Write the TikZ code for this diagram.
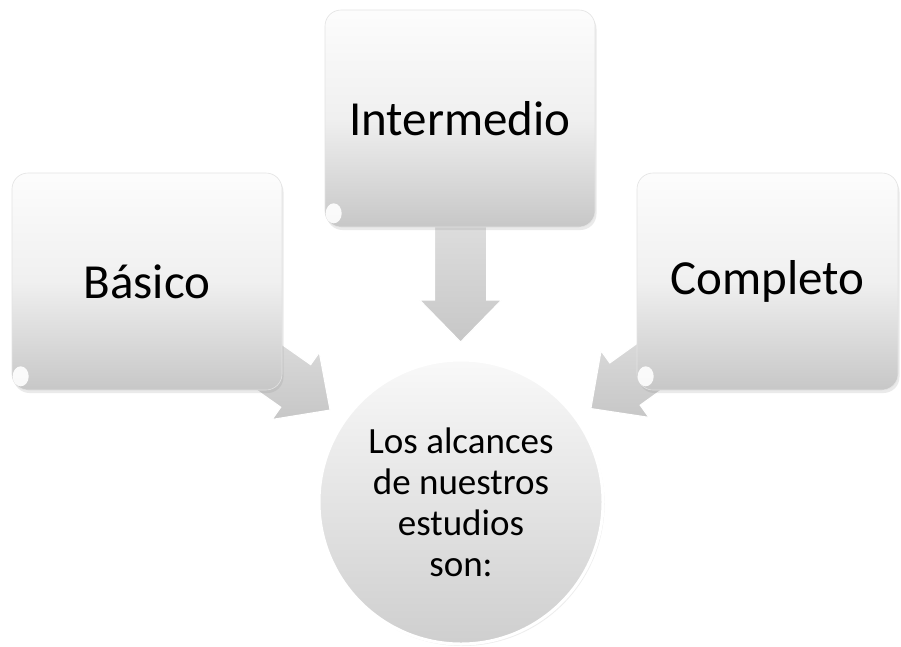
\documentclass[tikz,border=0pt]{standalone}
\usepackage{fontspec}
\setmainfont{Carlito}
\usetikzlibrary{shadows,calc,backgrounds}
\begin{document}
\begin{tikzpicture}[x=1pt,y=1pt,
  levelbox/.style={rectangle, rounded corners=16pt, minimum width=270pt, minimum height=217pt,
    top color=gray!2, bottom color=gray!44, middle color=gray!12, draw=gray!22, line width=0.6pt,
    drop shadow={opacity=0.16, shadow xshift=1.5pt, shadow yshift=-3pt},
    font=\fontsize{49}{59}\selectfont, inner sep=0pt},
  hubcircle/.style={circle, minimum size=284pt, top color=gray!5, bottom color=gray!38,
    draw=white, line width=3pt,
    drop shadow={opacity=0.14, shadow xshift=1.5pt, shadow yshift=-2pt},
    align=center, font=\fontsize{37}{41}\selectfont, inner sep=0pt},
  blockarr/.style={top color=gray!22, bottom color=gray!44, draw=white, line width=1.1pt, line join=miter},
  glint/.style={fill=white, opacity=0.9}
]
% boxes and hub
\node[levelbox] (basico) at (147,-281.5) {Básico};
\node[levelbox] (inter) at (460,-118.5) {Intermedio};
\node[levelbox, minimum width=261pt] (completo) at (767.5,-281.5) {Completo};
\node[hubcircle] (hub) at (461,-502) {Los alcances\\de nuestros\\estudios\\son:};
% corner glints
\foreach \b in {basico,inter,completo}{
  \fill[glint] ($(\b.south west)+(9,14)$) ellipse (8pt and 10pt);
}
% arrows behind
\begin{scope}[on background layer]
  \fill[white] (0,0) rectangle (901,-646);
  \coordinate (tipB) at ($(hub.center)!160pt!(basico.center)$);
  \coordinate (tipI) at ($(hub.center)!160pt!(inter.center)$);
  \coordinate (tipC) at ($(hub.center)!160pt!(completo.center)$);
  \foreach \t/\a in {tipB/-35.1, tipI/-90, tipC/-144.3}{
    \begin{scope}[shift={(\t)}, rotate=\a]
      \path[blockarr] (0,0) -- (-42,41) -- (-42,26) -- (-150,26) -- (-150,-26)
        -- (-42,-26) -- (-42,-41) -- cycle;
    \end{scope}
  }
\end{scope}
\useasboundingbox (0,0) rectangle (901,-646);
\end{tikzpicture}
\end{document}
